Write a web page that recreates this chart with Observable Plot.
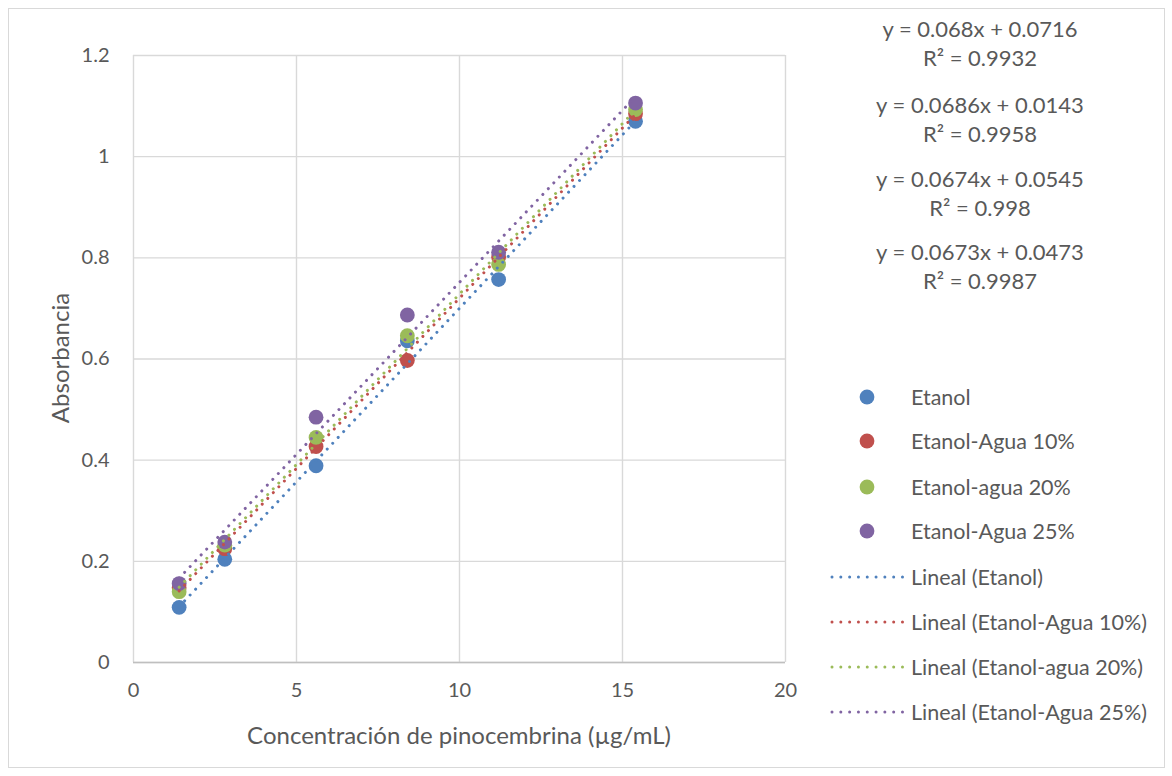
<!DOCTYPE html>
<html><head><meta charset="utf-8">
<script src="https://cdn.jsdelivr.net/npm/d3@7"></script>
<script src="https://cdn.jsdelivr.net/npm/@observablehq/plot@0.6"></script>
<style>
body{margin:0;background:#fff;}
#wrap{position:relative;width:1172px;height:776px;font-family:Lato,sans-serif;color:#595959;overflow:hidden;}
#border{position:absolute;left:8px;top:8px;width:1157px;height:760px;border:1px solid #d9d9d9;box-sizing:border-box;}
#chart{position:absolute;left:0;top:0;}
.eq{position:absolute;width:300px;text-align:center;font-size:22px;line-height:29px;white-space:nowrap;}
.leg{position:absolute;left:826px;height:30px;display:flex;align-items:center;font-size:21.5px;white-space:nowrap;}
.leg svg{flex:none;}
.title{position:absolute;font-size:24px;white-space:nowrap;line-height:30px;}
</style></head>
<body><div id="wrap"><div id="border"></div><div id="chart"></div></div>
<script>
// ---- data ----
const concentracion = [1.4, 2.8, 5.6, 8.4, 11.2, 15.4];
const series = ["Etanol", "Etanol-Agua 10%", "Etanol-agua 20%", "Etanol-Agua 25%"];
const absEtanol  = [0.109, 0.204, 0.389, 0.636, 0.757, 1.070];
const absAgua10  = [0.148, 0.225, 0.427, 0.597, 0.801, 1.085];
const absAgua20  = [0.140, 0.232, 0.445, 0.646, 0.787, 1.093];
const absAgua25  = [0.156, 0.238, 0.485, 0.687, 0.811, 1.106];
const colors = ["#4F81BD", "#C0504D", "#9BBB59", "#8064A2"];
const slopes     = [0.0686, 0.0673, 0.0674, 0.068];
const intercepts = [0.0143, 0.0473, 0.0545, 0.0716];
const r2         = [0.9958, 0.9987, 0.998, 0.9932];
const eqOrder = [3, 0, 2, 1]; // order the equations appear at top right
const xTicks = [0, 5, 10, 15, 20];
const yTicks = [0, 0.2, 0.4, 0.6, 0.8, 1, 1.2];
const xTitle = "Concentración de pinocembrina (µg/mL)";
const yTitle = "Absorbancia";

const allAbs = [absEtanol, absAgua10, absAgua20, absAgua25];
const points = [];
allAbs.forEach((arr, i) => arr.forEach((v, j) => points.push({x: concentracion[j], y: v, s: series[i]})));
const xmin = d3.min(concentracion), xmax = d3.max(concentracion);
const trend = [];
series.forEach((s, i) => [xmin, xmax].forEach(x => trend.push({x, y: slopes[i] * x + intercepts[i], s})));

const plot = Plot.plot({
  width: 1172, height: 776,
  marginLeft: 133, marginRight: 387, marginTop: 55, marginBottom: 114,
  style: {fontFamily: "Lato, sans-serif", fontSize: "20px", color: "#595959", background: "transparent"},
  x: {domain: [0, 20], ticks: xTicks},
  y: {domain: [0, 1.2], ticks: yTicks},
  color: {domain: series, range: colors},
  marks: [
    Plot.gridX(xTicks, {stroke: "#d9d9d9", strokeOpacity: 1, strokeWidth: 1.4}),
    Plot.gridY(yTicks, {stroke: "#d9d9d9", strokeOpacity: 1, strokeWidth: 1.4}),
    Plot.ruleY([0], {stroke: "#bfbfbf", strokeWidth: 1.4}),
    Plot.axisX(xTicks, {tickSize: 0, tickPadding: 20, label: null, fontSize: 20, fill: "#595959"}),
    Plot.axisY(yTicks, {tickSize: 0, tickPadding: 24, tickFormat: d => String(Math.round(d * 10) / 10), label: null, fontSize: 20, fill: "#595959"}),
    Plot.dot(points, {x: "x", y: "y", fill: "s", r: 7.4}),
    Plot.line(trend, {x: "x", y: "y", z: "s", stroke: "s", strokeWidth: 3, strokeDasharray: "0.01 8", strokeLinecap: "round"})
  ]
});
document.getElementById("chart").appendChild(plot);

const wrap = document.getElementById("wrap");
// axis titles
const xt = document.createElement("div");
xt.className = "title";
xt.textContent = xTitle;
xt.style.left = "459px"; xt.style.top = "720px"; xt.style.transform = "translateX(-50%)";
wrap.appendChild(xt);
const yt = document.createElement("div");
yt.className = "title";
yt.textContent = yTitle;
yt.style.left = "60px"; yt.style.top = "358px"; yt.style.transform = "translate(-50%,-50%) rotate(-90deg)";
wrap.appendChild(yt);

const eqTops = [14, 90, 164, 237];
eqOrder.forEach((i, k) => {
  const d = document.createElement("div");
  d.className = "eq";
  d.style.left = (980 - 150) + "px";
  d.style.top = eqTops[k] + "px";
  d.innerHTML = `y = ${slopes[i]}x + ${intercepts[i]}<br>R² = ${r2[i]}`;
  wrap.appendChild(d);
});
const legY = [397, 441, 487, 531, 577, 622, 667, 712];
series.forEach((s, i) => {
  const d = document.createElement("div");
  d.className = "leg";
  d.style.top = (legY[i] - 15) + "px";
  d.innerHTML = `<svg width="85" height="30"><circle cx="41" cy="15" r="7.4" fill="${colors[i]}"/></svg><span>${s}</span>`;
  wrap.appendChild(d);
  const l = document.createElement("div");
  l.className = "leg";
  l.style.top = (legY[i + 4] - 15) + "px";
  l.innerHTML = `<svg width="85" height="30"><line x1="6" x2="77" y1="15" y2="15" stroke="${colors[i]}" stroke-width="3" stroke-dasharray="0.01 8.8" stroke-linecap="round"/></svg><span>Lineal (${s})</span>`;
  wrap.appendChild(l);
});
</script></body></html>
